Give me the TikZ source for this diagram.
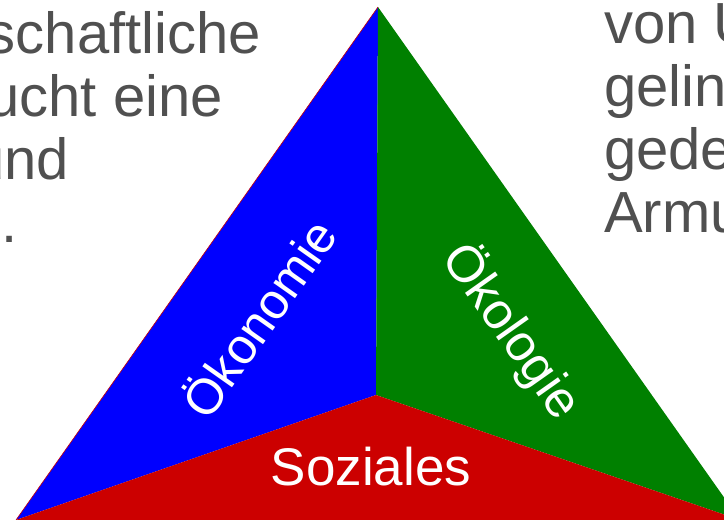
\documentclass[tikz,border=0pt]{standalone}
\usepackage{fontspec}
\setmainfont{Liberation Sans}
\definecolor{oekblue}{HTML}{0000FF}
\definecolor{oekgreen}{HTML}{008000}
\definecolor{oekred}{HTML}{CC0000}
\definecolor{txtgray}{HTML}{505050}
\begin{document}
\begin{tikzpicture}[x=1pt,y=-1pt,
  bodytext/.style={inner sep=0pt,text=txtgray,font=\fontsize{58}{63}\selectfont},
  label/.style={inner sep=0pt,text=white,font=\fontsize{#1}{#1}\selectfont},
  label/.default=48]
\useasboundingbox (0,0) rectangle (724,520);
\clip (0,0) rectangle (724,520);
\coordinate (A) at (378,7);
\coordinate (L) at (16,520);
\coordinate (R) at (740,520);
\coordinate (C) at (376,395);
\fill[oekblue] (A) -- (C) -- (L) -- cycle;
\fill[oekgreen] (A) -- (R) -- (C) -- cycle;
\fill[oekred] (L) -- (C) -- (R) -- cycle;
\draw[oekred,line width=0.6pt] (L) -- (A);
% left text fragments
\node[bodytext,anchor=base east] (l1) at (261,53) {schaftliche};
\node[bodytext,anchor=base east] (l2) at (223,116) {ucht eine};
\node[bodytext,anchor=base east] (l3) at (69,179) {und};
\node[bodytext,anchor=base east] (l4) at (18,242) {.};
% right text fragments
\node[bodytext,anchor=base west] (r1) at (604,43) {von U};
\node[bodytext,anchor=base west] (r2) at (604,106) {gelin};
\node[bodytext,anchor=base west] (r3) at (604,169) {gede};
\node[bodytext,anchor=base west] (r4) at (604,232) {Armu};
% labels
\node[label=50,rotate=54.8] (oek) at (257,317) {Ökonomie};
\node[label=51,rotate=-54.8] (oeko) at (512,331) {Ökologie};
\node[label=53] (soz) at (371,467) {Soziales};
\end{tikzpicture}
\end{document}
